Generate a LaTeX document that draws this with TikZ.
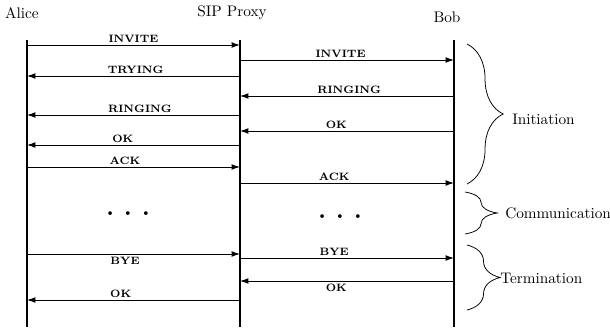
\documentclass[tikz,border=0pt]{standalone}
\usetikzlibrary{decorations.pathreplacing,arrows.meta}
\begin{document}
\begin{tikzpicture}[x=0.023cm,y=-0.023cm,line width=0.2pt,
    life/.style={line width=1.1pt},
    msg/.style={-{Latex[length=5.5pt,width=3.8pt]},line width=0.6pt},
    lbl/.style={font=\scriptsize\bfseries,inner sep=1.5pt},
    brc/.style={decorate,decoration={brace,amplitude=#1},line width=0.5pt}]

    \useasboundingbox (0,0) rectangle (610,330);

    \node (alice) at (22,13) {Alice};
    \node (proxy) at (232,13) {SIP Proxy};
    \node (bob) at (447,17) {Bob};

    \coordinate (aliceTop) at (27,40);  \coordinate (aliceBot) at (27,327);
    \coordinate (proxyTop) at (240,40); \coordinate (proxyBot) at (240,327);
    \coordinate (bobTop) at (454,40);   \coordinate (bobBot) at (454,327);

    \draw[life] (aliceTop) -- (aliceBot);
    \draw[life] (proxyTop) -- (proxyBot);
    \draw[life] (bobTop) -- (bobBot);

    \foreach \m/\y in {inv/45,try/76,ring/115,ok/145,ack/167,bye/254,okb/300} {
        \coordinate (a-\m) at (27,\y);
        \coordinate (pl-\m) at (240,\y);
    }
    \foreach \m/\y in {inv/60,ring/96,ok/131,ack/183,bye/258,okb/281} {
        \coordinate (pr-\m) at (240,\y);
        \coordinate (b-\m) at (454,\y);
    }

    % Alice <-> proxy
    \path[msg] (a-inv) edge node[lbl,above,pos=0.5] {INVITE} (pl-inv);
    \path[msg] (pl-try) edge node[lbl,above,pos=0.49] {TRYING} (a-try);
    \path[msg] (pl-ring) edge node[lbl,above,pos=0.47] {RINGING} (a-ring);
    \path[msg] (pl-ok) edge node[lbl,above,pos=0.55] {OK} (a-ok);
    \path[msg] (a-ack) edge node[lbl,above,pos=0.46] {ACK} (pl-ack);
    \path[msg] (a-bye) edge node[lbl,below,pos=0.46] {BYE} (pl-bye);
    \path[msg] (pl-okb) edge node[lbl,above,pos=0.56] {OK} (a-okb);

    % proxy <-> Bob
    \path[msg] (pr-inv) edge node[lbl,above,pos=0.47] {INVITE} (b-inv);
    \path[msg] (b-ring) edge node[lbl,above,pos=0.49] {RINGING} (pr-ring);
    \path[msg] (b-ok) edge node[lbl,above,pos=0.55] {OK} (pr-ok);
    \path[msg] (pr-ack) edge node[lbl,above,pos=0.44] {ACK} (b-ack);
    \path[msg] (pr-bye) edge node[lbl,above,pos=0.44] {BYE} (b-bye);
    \path[msg] (b-okb) edge node[lbl,below,pos=0.55] {OK} (pr-okb);

    \node[font=\tiny] (dotsl) at (128,214) {$\bullet$\hspace{8pt}$\bullet$\hspace{8pt}$\bullet$};
    \node[font=\tiny] (dotsr) at (340,217) {$\bullet$\hspace{8pt}$\bullet$\hspace{8pt}$\bullet$};

    % phases
    \coordinate (initTop) at (467,44);  \coordinate (initBot) at (467,184);
    \coordinate (commTop) at (465,192); \coordinate (commBot) at (465,234);
    \coordinate (termTop) at (467,245); \coordinate (termBot) at (467,310);

    \draw[brc=0.83cm] (initTop) -- (initBot);
    \draw[brc=0.74cm] (commTop) -- (commBot);
    \draw[brc=0.76cm] (termTop) -- (termBot);

    \node[anchor=west] (init) at (507,119) {Initiation};
    \node[anchor=west] (comm) at (500,213) {Communication};
    \node[anchor=west] (term) at (495,278) {Termination};

\end{tikzpicture}
\end{document}
